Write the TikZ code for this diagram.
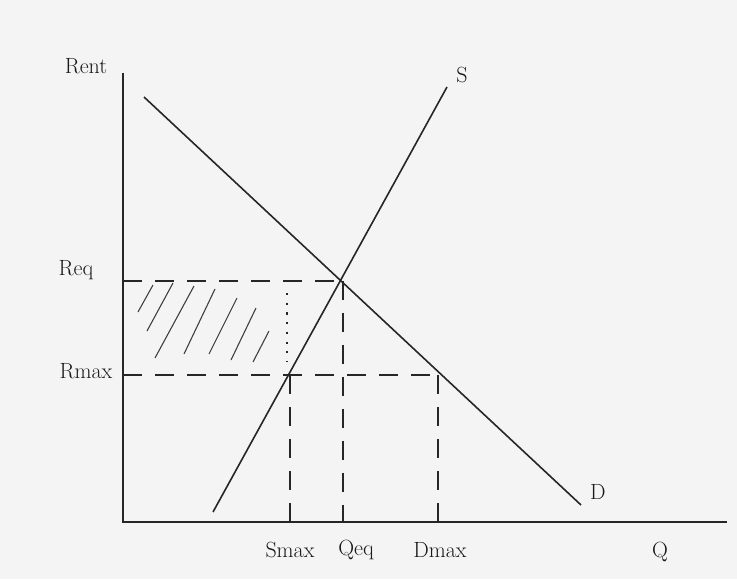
\documentclass[tikz,border=0pt]{standalone}
\usetikzlibrary{calc}
\begin{document}
\begin{tikzpicture}[x=1pt,y=-1pt,
  curve/.style={line width=1.6pt,black!85},
  axis/.style={line width=1.6pt,black!85},
  guide/.style={line width=1.5pt,black!85,dash pattern=on 19pt off 13pt},
  hatch/.style={line width=1.1pt,black!75},
  lab/.style={font=\fontsize{22}{24}\selectfont,text=black!90,inner sep=1pt}]
\fill[gray!9] (0,0) rectangle (737,579);
\useasboundingbox (0,0) rectangle (737,579);
% axes
\coordinate (O) at (123,522);
\coordinate (ytop) at (123,73);
\coordinate (xend) at (727,522);
\draw[axis] (ytop) -- (O) -- (xend);
% curves
\coordinate (D1) at (144,97);
\coordinate (D2) at (581,505);
\coordinate (S1) at (213,512);
\coordinate (S2) at (447,87);
\draw[curve] (D1) -- (D2);
\draw[curve] (S1) -- (S2);
% key points
\coordinate (E) at (343,281);
\coordinate (Ry) at (123,281);
\coordinate (Rm) at (123,375);
\coordinate (Sm) at (290,375);
\coordinate (Dm) at (438,375);
\coordinate (Eb) at (343,522);
\coordinate (Smb) at (290,522);
\coordinate (Dmb) at (438,522);
\draw[guide] (Ry) -- (E);
\draw[guide] (E) -- (Eb);
\draw[guide] (Rm) -- (Dm);
\draw[guide] (Sm) -- (Smb);
\draw[guide] (Dm) -- (Dmb);
% dotted
\coordinate (dt1) at (287,293);
\coordinate (dt2) at (287,362);
\draw[line width=2pt,black!85,dash pattern=on 2.2pt off 7.5pt] (dt1) -- (dt2);
% hatching
\foreach \a/\b/\c/\d in {138/312/153/285, 147/331/173/283, 155/358/194/286, 184/354/215/289, 209/354/237/298, 231/360/256/308, 253/362/269/331}
  \draw[hatch] (\a,\b) -- (\c,\d);
% labels
\node[lab] (rent) at (86,66) {Rent};
\node[lab] (req) at (76,270) {Req};
\node[lab] (rmax) at (86,371) {Rmax};
\node[lab] (s) at (462,75) {S};
\node[lab] (d) at (598,492) {D};
\node[lab] (smax) at (290,550) {Smax};
\node[lab] (qeq) at (356,550) {Qeq};
\node[lab] (dmax) at (440,550) {Dmax};
\node[lab] (q) at (660,552) {Q};
\end{tikzpicture}
\end{document}
